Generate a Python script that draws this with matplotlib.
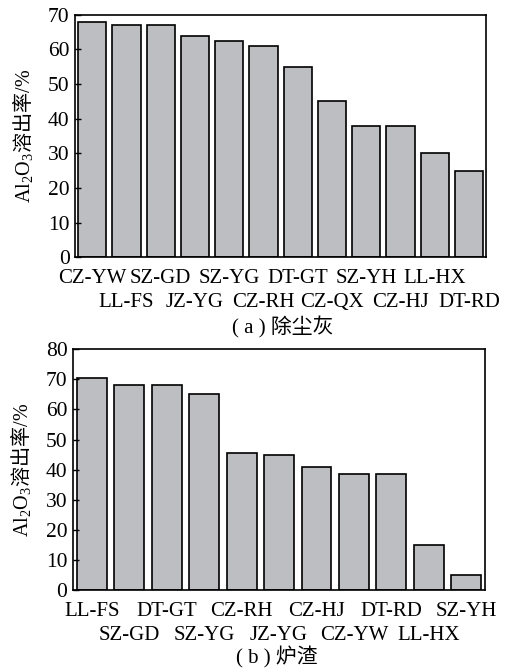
import matplotlib
matplotlib.use("Agg")
import matplotlib.pyplot as plt

# (a) dust ash
dust_names = ["CZ-YW", "LL-FS", "SZ-GD", "JZ-YG", "SZ-YG", "CZ-RH",
              "DT-GT", "CZ-QX", "SZ-YH", "CZ-HJ", "LL-HX", "DT-RD"]
dust_vals = [68, 67, 67, 64, 62.3, 61, 55, 45, 38, 38, 30, 25]

# (b) slag
slag_names = ["LL-FS", "SZ-GD", "DT-GT", "SZ-YG", "CZ-RH", "JZ-YG",
              "CZ-HJ", "CZ-YW", "DT-RD", "LL-HX", "SZ-YH"]
slag_vals = [70.5, 68, 68, 65, 45.5, 45, 41, 38.5, 38.5, 15, 5]

plt.rcParams["mathtext.fontset"] = "custom"
plt.rcParams["mathtext.rm"] = "Liberation Serif"
plt.rcParams["mathtext.it"] = "Liberation Serif:italic"
plt.rcParams["font.family"] = ["Liberation Serif", "Noto Sans CJK SC"]

fig = plt.figure(figsize=(5.29, 6.70), dpi=100)
ax1 = fig.add_axes([0.142, 0.616, 0.777, 0.362])
ax2 = fig.add_axes([0.138, 0.119, 0.779, 0.360])

bar_col = "#bdbec2"
ylab = r"$\mathrm{Al_2O_3}$溶出率$\mathrm{/\%}$"


def draw(ax, names, vals, ymax, width):
    x = list(range(len(names)))
    ax.bar(x, vals, width=width, color=bar_col, edgecolor="black", linewidth=1.2)
    ax.set_xlim(-0.5, len(names) - 0.5)
    ax.set_ylim(0, ymax)
    ax.set_yticks(range(0, ymax + 1, 10))
    # staggered category labels: even ones on the first row, odd ones below
    ax.set_xticks(x[0::2])
    ax.set_xticklabels(names[0::2])
    ax.set_xticks(x[1::2], minor=True)
    ax.set_xticklabels(names[1::2], minor=True)
    ax.tick_params(axis="x", which="major", length=0, pad=8.5, labelsize=15)
    ax.tick_params(axis="x", which="minor", length=0, pad=26, labelsize=15)
    ax.tick_params(axis="y", direction="in", length=4, width=1, pad=4, labelsize=15.5)
    for s in ax.spines.values():
        s.set_linewidth(1.2)
    ax.set_ylabel(ylab, fontsize=14.5, family="Noto Sans CJK SC", labelpad=9)


draw(ax1, dust_names, dust_vals, 70, 0.82)
draw(ax2, slag_names, slag_vals, 80, 0.8)

fig.text(0.535, 0.512, "( a ) 除尘灰", ha="center", va="center", fontsize=15)
fig.text(0.523, 0.018, "( b ) 炉渣", ha="center", va="center", fontsize=15)

fig.savefig("out.png", dpi=100)
